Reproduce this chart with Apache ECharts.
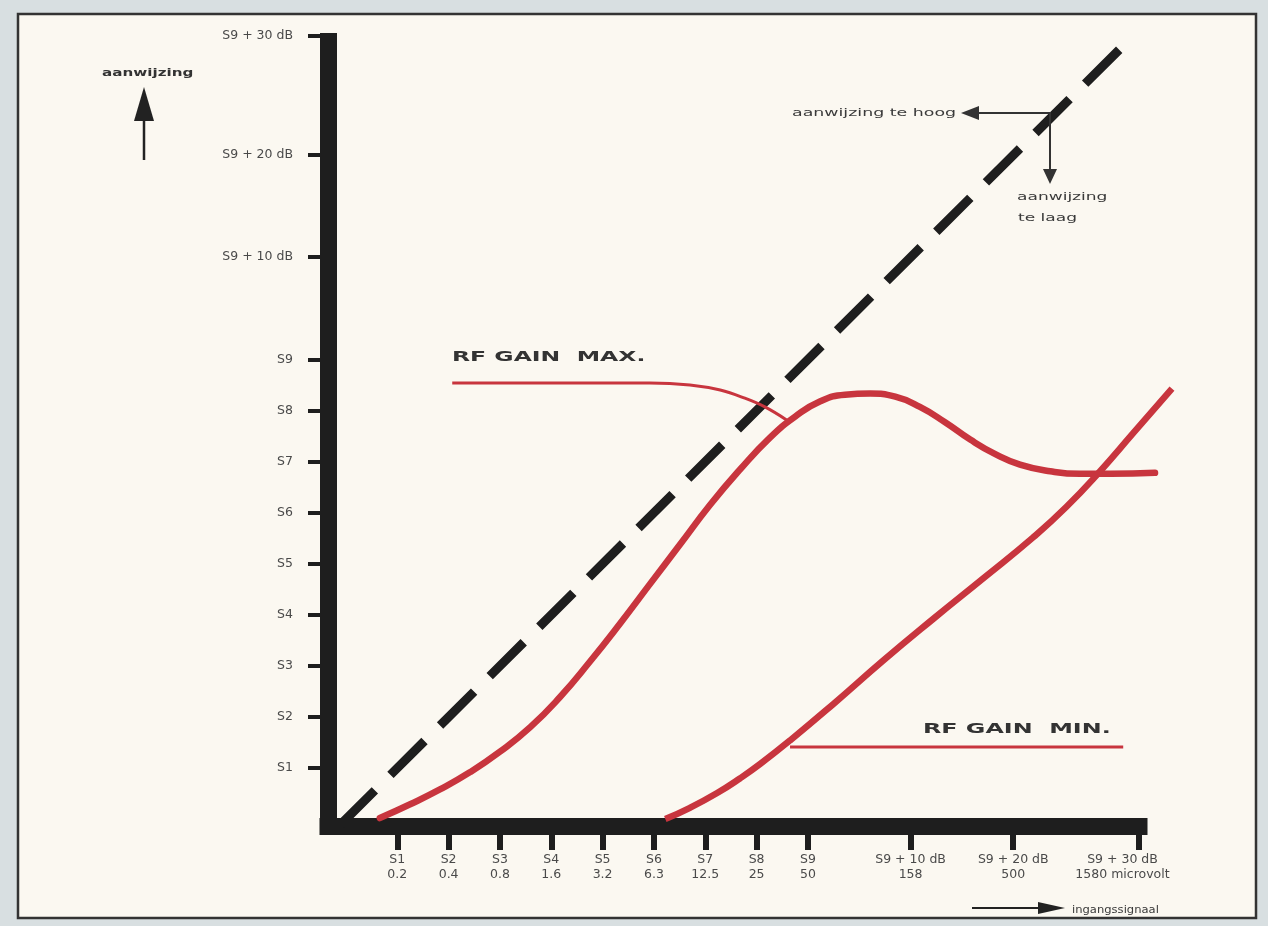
<!DOCTYPE html>
<html>
<head>
<meta charset="utf-8">
<script src="https://cdn.jsdelivr.net/npm/echarts@6/dist/echarts.min.js"></script>
<style>
html,body{margin:0;padding:0;background:#d8dfe1;}
#chart{width:1268px;height:926px;}
</style>
</head>
<body>
<div id="chart"></div>
<script>
// ---- data ----
const xTickValues = [1, 2, 3, 4, 5, 6, 7, 8, 9, 11, 13, 15.44];
const xSUnits = ['S1', 'S2', 'S3', 'S4', 'S5', 'S6', 'S7', 'S8', 'S9', 'S9 + 10 dB', 'S9 + 20 dB', 'S9 + 30 dB'];
const xMicrovolt = ['0.2', '0.4', '0.8', '1.6', '3.2', '6.3', '12.5', '25', '50', '158', '500', '1580 microvolt'];

const yTickValues = [1, 2, 3, 4, 5, 6, 7, 8, 9, 11, 13, 15.33];
const yTickLabels = ['S1', 'S2', 'S3', 'S4', 'S5', 'S6', 'S7', 'S8', 'S9', 'S9 + 10 dB', 'S9 + 20 dB', 'S9 + 30 dB'];

const idealLine = [[-0.1, -0.1], [15.15, 15.15]];

const rfGainMax = [
  [0.66, 0.02], [1.25, 0.29], [1.83, 0.58], [2.42, 0.92], [3.00, 1.32], [3.59, 1.80],
  [4.17, 2.39], [4.75, 3.08], [5.34, 3.83], [5.92, 4.60], [6.51, 5.38], [7.09, 6.15],
  [7.68, 6.85], [8.26, 7.47], [8.75, 7.88], [9.24, 8.18], [9.72, 8.31], [10.21, 8.33],
  [10.70, 8.27], [11.18, 8.07], [11.67, 7.77], [12.16, 7.43], [12.64, 7.15], [13.13, 6.94],
  [13.72, 6.81], [14.30, 6.76], [14.89, 6.76], [15.76, 6.78]
];
const rfGainMin = [
  [6.22, 0.0], [6.70, 0.22], [7.23, 0.51], [7.68, 0.80], [8.07, 1.08], [8.65, 1.54],
  [9.49, 2.25], [10.46, 3.10], [11.44, 3.92], [12.41, 4.71], [13.38, 5.51], [14.03, 6.11],
  [14.69, 6.81], [15.33, 7.55], [16.09, 8.43]
];
const maxLeader = [[2.07, 8.54], [5.92, 8.54], [6.70, 8.50], [7.29, 8.40], [7.77, 8.24], [8.16, 8.07], [8.59, 7.81]];
const minLeader = [[8.65, 1.41], [15.14, 1.41]];

const labelMax = 'RF GAIN  MAX.';
const labelMin = 'RF GAIN  MIN.';
const yAxisName = 'aanwijzing';
const xAxisName = 'ingangssignaal';
const noteHigh = 'aanwijzing te hoog';
const noteLow1 = 'aanwijzing';
const noteLow2 = 'te laag';

// ---- chart ----
const RED = '#c8353e';
const INK = '#1e1e1e';
const TXT = '#4a4a4a';
const FONT = '"DejaVu Sans", sans-serif';

const chart = echarts.init(document.getElementById('chart'));

function xLabel(v) {
  const i = xTickValues.indexOf(v);
  if (i < 0) return '';
  if (i === xTickValues.length - 1) {
    return '{last|' + xSUnits[i] + '}\n{last|' + xMicrovolt[i] + '}';
  }
  return xSUnits[i] + '\n' + xMicrovolt[i];
}
function yLabel(v) {
  const i = yTickValues.indexOf(v);
  return i < 0 ? '' : yTickLabels[i];
}

const X_MIN = -0.35, Y_MIN = -0.135, Y_MAX = 15.39;

const option = {
  backgroundColor: '#d8dfe1',
  animation: false,
  grid: [
    { left: 328, right: 129, top: 33, bottom: 100 },
    { left: 328, right: 95, top: 33, bottom: 100 }
  ],
  xAxis: [{
    gridIndex: 0, type: 'value', min: X_MIN, max: 15.45,
    splitLine: { show: false },
    axisLine: { onZero: false, lineStyle: { color: INK, width: 17, cap: 'square' } },
    axisTick: { customValues: xTickValues, length: 24, lineStyle: { color: INK, width: 6 } },
    axisLabel: {
      customValues: xTickValues, margin: 26, formatter: xLabel,
      color: TXT, fontSize: 12.5, lineHeight: 15, fontFamily: FONT,
      rich: { last: { color: TXT, fontSize: 12.5, lineHeight: 15, fontFamily: FONT, padding: [0, 32, 0, 0] } }
    }
  }, {
    gridIndex: 1, type: 'value', min: X_MIN, max: 16.11, show: false
  }],
  yAxis: [{
    gridIndex: 0, type: 'value', min: Y_MIN, max: Y_MAX,
    splitLine: { show: false },
    axisLine: { onZero: false, lineStyle: { color: INK, width: 17, cap: 'butt' } },
    axisTick: { customValues: yTickValues, length: 20, lineStyle: { color: INK, width: 4 } },
    axisLabel: {
      customValues: yTickValues, margin: 35, formatter: yLabel,
      color: TXT, fontSize: 12.5, fontFamily: FONT
    }
  }, {
    gridIndex: 1, type: 'value', min: Y_MIN, max: Y_MAX, show: false
  }],
  series: [
    {
      type: 'line', xAxisIndex: 1, yAxisIndex: 1, data: idealLine, symbol: 'none', clip: false, z: 3,
      lineStyle: { color: INK, width: 9, type: [48, 22], cap: 'butt' }
    },
    {
      type: 'line', xAxisIndex: 1, yAxisIndex: 1, data: maxLeader, symbol: 'none', clip: false, smooth: 0.4, z: 4,
      lineStyle: { color: RED, width: 3 }
    },
    {
      type: 'line', xAxisIndex: 1, yAxisIndex: 1, data: minLeader, symbol: 'none', clip: false, z: 4,
      lineStyle: { color: RED, width: 3 }
    },
    {
      type: 'line', xAxisIndex: 1, yAxisIndex: 1, data: rfGainMax, symbol: 'none', clip: false, smooth: 0.5, z: 5,
      lineStyle: { color: RED, width: 6.5, cap: 'round', join: 'round' }
    },
    {
      type: 'line', xAxisIndex: 1, yAxisIndex: 1, data: rfGainMin, symbol: 'none', clip: false, smooth: 0.5, z: 5,
      lineStyle: { color: RED, width: 6.5, cap: 'butt', join: 'round' }
    }
  ],
  graphic: [
    { type: 'rect', z: -10, shape: { x: 18, y: 14, width: 1238, height: 904 },
      style: { fill: '#fbf8f1', stroke: '#333', lineWidth: 2.5 } },
    // y-direction note
    { type: 'text', x: 102, y: 73, scaleX: 1.38, z: 10,
      style: { text: yAxisName, fill: '#333', fontSize: 11, fontWeight: 'bold', fontFamily: FONT, align: 'left', verticalAlign: 'middle' } },
    { type: 'line', z: 10, shape: { x1: 144, y1: 160, x2: 144, y2: 112 }, style: { stroke: '#222', lineWidth: 2.5 } },
    { type: 'polygon', z: 10, shape: { points: [[144, 87], [134, 121], [154, 121]] }, style: { fill: '#222' } },
    // te hoog / te laag
    { type: 'text', x: 792, y: 113, scaleX: 1.58, z: 10,
      style: { text: noteHigh, fill: '#3a3a3a', fontSize: 11, fontFamily: FONT, align: 'left', verticalAlign: 'middle' } },
    { type: 'line', z: 10, shape: { x1: 976, y1: 113, x2: 1051, y2: 113 }, style: { stroke: '#333', lineWidth: 2 } },
    { type: 'polygon', z: 10, shape: { points: [[961, 113], [979, 106], [979, 120]] }, style: { fill: '#333' } },
    { type: 'line', z: 10, shape: { x1: 1050, y1: 113, x2: 1050, y2: 172 }, style: { stroke: '#333', lineWidth: 2 } },
    { type: 'polygon', z: 10, shape: { points: [[1043, 169], [1057, 169], [1050, 184]] }, style: { fill: '#333' } },
    { type: 'text', x: 1017, y: 197, scaleX: 1.55, z: 10,
      style: { text: noteLow1, fill: '#3a3a3a', fontSize: 11, fontFamily: FONT, align: 'left', verticalAlign: 'middle' } },
    { type: 'text', x: 1018, y: 218, scaleX: 1.55, z: 10,
      style: { text: noteLow2, fill: '#3a3a3a', fontSize: 11, fontFamily: FONT, align: 'left', verticalAlign: 'middle' } },
    // x-direction note
    { type: 'line', z: 10, shape: { x1: 972, y1: 908, x2: 1045, y2: 908 }, style: { stroke: '#222', lineWidth: 2 } },
    { type: 'polygon', z: 10, shape: { points: [[1038, 902], [1038, 914], [1065, 908]] }, style: { fill: '#222' } },
    { type: 'text', x: 1072, y: 910, scaleX: 1.1, z: 10,
      style: { text: xAxisName, fill: '#3a3a3a', fontSize: 10.5, fontFamily: FONT, align: 'left', verticalAlign: 'middle' } },
    // curve labels
    { type: 'text', x: 452, y: 357, scaleX: 1.68, z: 10,
      style: { text: labelMax, fill: '#333', fontSize: 14, fontWeight: 'bold', fontFamily: FONT, align: 'left', verticalAlign: 'middle' } },
    { type: 'text', x: 923, y: 729, scaleX: 1.7, z: 10,
      style: { text: labelMin, fill: '#333', fontSize: 14, fontWeight: 'bold', fontFamily: FONT, align: 'left', verticalAlign: 'middle' } }
  ]
};
chart.setOption(option);
</script>
</body>
</html>
